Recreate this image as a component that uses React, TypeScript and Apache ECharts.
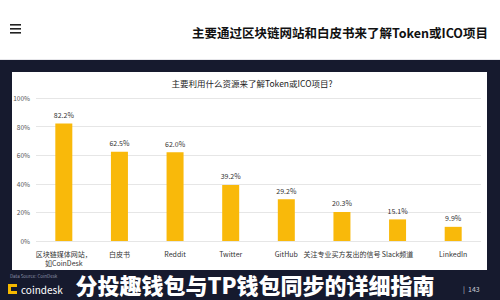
import React, { useEffect, useRef } from "react";
import * as echarts from "echarts";

const categories = [
  "区块链媒体网站，\n如CoinDesk",
  "白皮书",
  "Reddit",
  "Twitter",
  "GitHub",
  "关注专业买方发出的信号",
  "Slack频道",
  "LinkedIn",
];
const values = [82.2, 62.5, 62.0, 39.2, 29.2, 20.3, 15.1, 9.9];
const yTicks = [0, 20, 40, 60, 80, 100];

const headerTitle = "主要通过区块链网站和白皮书来了解Token或ICO项目";
const chartTitle = "主要利用什么资源来了解Token或ICO项目?";
const caption = "分投趣钱包与TP钱包同步的详细指南";
const pageNo = "|  143";

export default function App() {
  const ref = useRef<HTMLDivElement>(null);
  useEffect(() => {
    document.body.style.margin = "0";
    const chart = echarts.init(ref.current!, null, { renderer: "svg" });
    const font = "'Noto Sans CJK SC', 'Noto Sans', sans-serif";
    chart.setOption({
      animation: false,
      backgroundColor: "#161a2e",
      textStyle: { fontFamily: font },
      graphic: [
        { type: "rect", shape: { x: 0, y: 0, width: 500, height: 60 }, style: { fill: "#ffffff" }, z: -10 },
        { type: "rect", shape: { x: 0, y: 59, width: 500, height: 1 }, style: { fill: "#e6e6ea" }, z: -9 },
        { type: "rect", shape: { x: 12, y: 72, width: 475, height: 198 }, style: { fill: "#ffffff" }, z: -10 },
        { type: "rect", shape: { x: 10, y: 24, width: 11, height: 1.6 }, style: { fill: "#222" } },
        { type: "rect", shape: { x: 10, y: 28, width: 11, height: 1.6 }, style: { fill: "#222" } },
        { type: "rect", shape: { x: 10, y: 32, width: 11, height: 1.6 }, style: { fill: "#222" } },
        {
          type: "text", x: 488, y: 32,
          style: { text: headerTitle, fill: "#111", fontSize: 12.5, fontWeight: "bold", fontFamily: font, textAlign: "right", textVerticalAlign: "middle" },
        },
        {
          type: "text", x: 252, y: 83,
          style: { text: chartTitle, fill: "#222", fontSize: 8.5, fontFamily: font, textAlign: "center", textVerticalAlign: "middle" },
        },
        {
          type: "text", x: 10, y: 275.5,
          style: { text: "Data Source: CoinDesk", fill: "#8a8fa6", fontSize: 4.5, fontFamily: font, textVerticalAlign: "middle" },
        },
        { type: "rect", shape: { x: 8, y: 284, width: 9, height: 10 }, style: { fill: "#f5b800" } },
        { type: "rect", shape: { x: 11, y: 287, width: 6, height: 4 }, style: { fill: "#161a2e" } },
        {
          type: "text", x: 21, y: 289,
          style: { text: "coindesk", fill: "#ffffff", fontSize: 10, fontFamily: font, textVerticalAlign: "middle" },
        },
        {
          type: "text", x: 255, y: 284, z: 10,
          style: { text: caption, fill: "#ffffff", fontSize: 22, fontWeight: 900, fontFamily: font, textAlign: "center", textVerticalAlign: "middle" },
        },
        {
          type: "text", x: 463, y: 289,
          style: { text: pageNo, fill: "#c8cbd6", fontSize: 7, fontFamily: font, textVerticalAlign: "middle" },
        },
      ],
      grid: { left: 36, right: 19, top: 98, bottom: 59 },
      xAxis: {
        type: "category",
        data: categories,
        axisLine: { show: false },
        axisTick: { show: false },
        axisLabel: { interval: 0, fontSize: 7, color: "#333", margin: 8, lineHeight: 9 },
      },
      yAxis: {
        type: "value",
        min: yTicks[0],
        max: yTicks[yTicks.length - 1],
        interval: 20,
        axisLine: { show: false },
        axisTick: { show: false },
        axisLabel: { formatter: "{value}%", fontSize: 6.5, color: "#555", margin: 6 },
        splitLine: { lineStyle: { color: "#e6e6e6", width: 1 } },
      },
      series: [
        {
          type: "bar",
          data: values,
          barWidth: 17,
          itemStyle: { color: "#f9b90a" },
          label: {
            show: true, position: "top", fontSize: 7, color: "#333", distance: 5,
            formatter: (p: any) => Number(p.value).toFixed(1) + "%",
          },
        },
      ],
    });
    return () => chart.dispose();
  }, []);
  return <div ref={ref} style={{ position: "fixed", left: 0, top: 0, width: 500, height: 300 }} />;
}
